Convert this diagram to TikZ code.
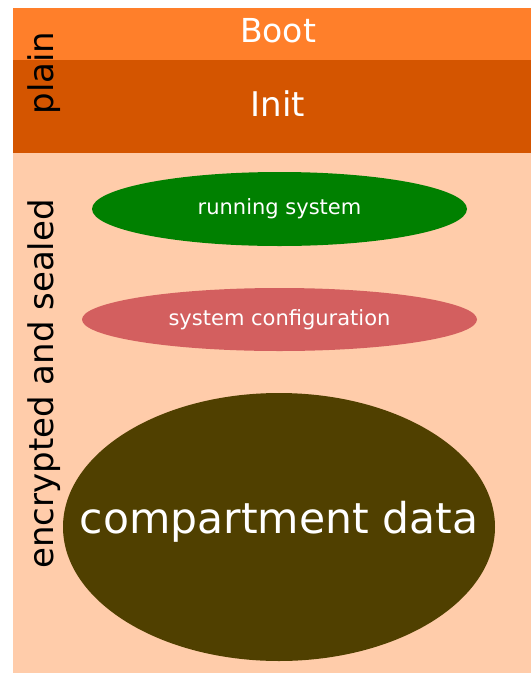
\documentclass[tikz,border=0pt]{standalone}
\usepackage{fontspec}
\setmainfont{DejaVu Sans}
\usetikzlibrary{shapes.geometric}
\definecolor{bootorange}{HTML}{FF7F2A}
\definecolor{initorange}{HTML}{D45500}
\definecolor{sealedpeach}{HTML}{FFCCAA}
\definecolor{runninggreen}{HTML}{008000}
\definecolor{configred}{HTML}{D35F5F}
\definecolor{databrown}{HTML}{504000}

\begin{document}
\begin{tikzpicture}[
      x=1pt, y=-1pt,
      band/.style={
        rectangle, anchor=north west, inner sep=0pt, outer sep=0pt,
        minimum width=518pt
      },
      blob/.style={
        ellipse, inner sep=0pt
      },
      side/.style={rotate=90, font=\fontsize{34}{40}\selectfont}
    ]
    \useasboundingbox (0,0) rectangle (531,673);

    % the three layers
    \node[band, fill=bootorange, minimum height=52pt] (boot) at (13,8) {};
    \node[band, fill=initorange, minimum height=93pt] (init) at (13,60) {};
    \node[band, fill=sealedpeach, minimum height=520pt] (sealed) at (13,153) {};

    \node[text=white, font=\fontsize{33}{40}\selectfont] (bootlbl) at (278,31) {Boot};
    \node[text=white, font=\fontsize{34}{40}\selectfont] (initlbl) at (278,104) {Init};

    % contents of the sealed part
    \node[blob, fill=runninggreen, minimum width=375pt, minimum height=74pt] (run) at (279.5,209) {};
    \node[blob, fill=configred, minimum width=395pt, minimum height=63pt] (conf) at (279.5,319.5) {};
    \node[blob, fill=databrown, minimum width=432pt, minimum height=268pt] (data) at (279,527) {};

    \node[text=white, font=\fontsize{21}{25}\selectfont] (runlbl) at (run) {running system};
    \node[text=white, font=\fontsize{21}{25}\selectfont] (conflbl) at (conf) {system configuration};
    \node[text=white, font=\fontsize{42.5}{50}\selectfont] (datalbl) at (279,522) {compartment data};

    \node[side] (plain) at (44,73) {plain};
    \node[side] (enc) at (44,384) {encrypted and sealed};
  \end{tikzpicture}
\end{document}
